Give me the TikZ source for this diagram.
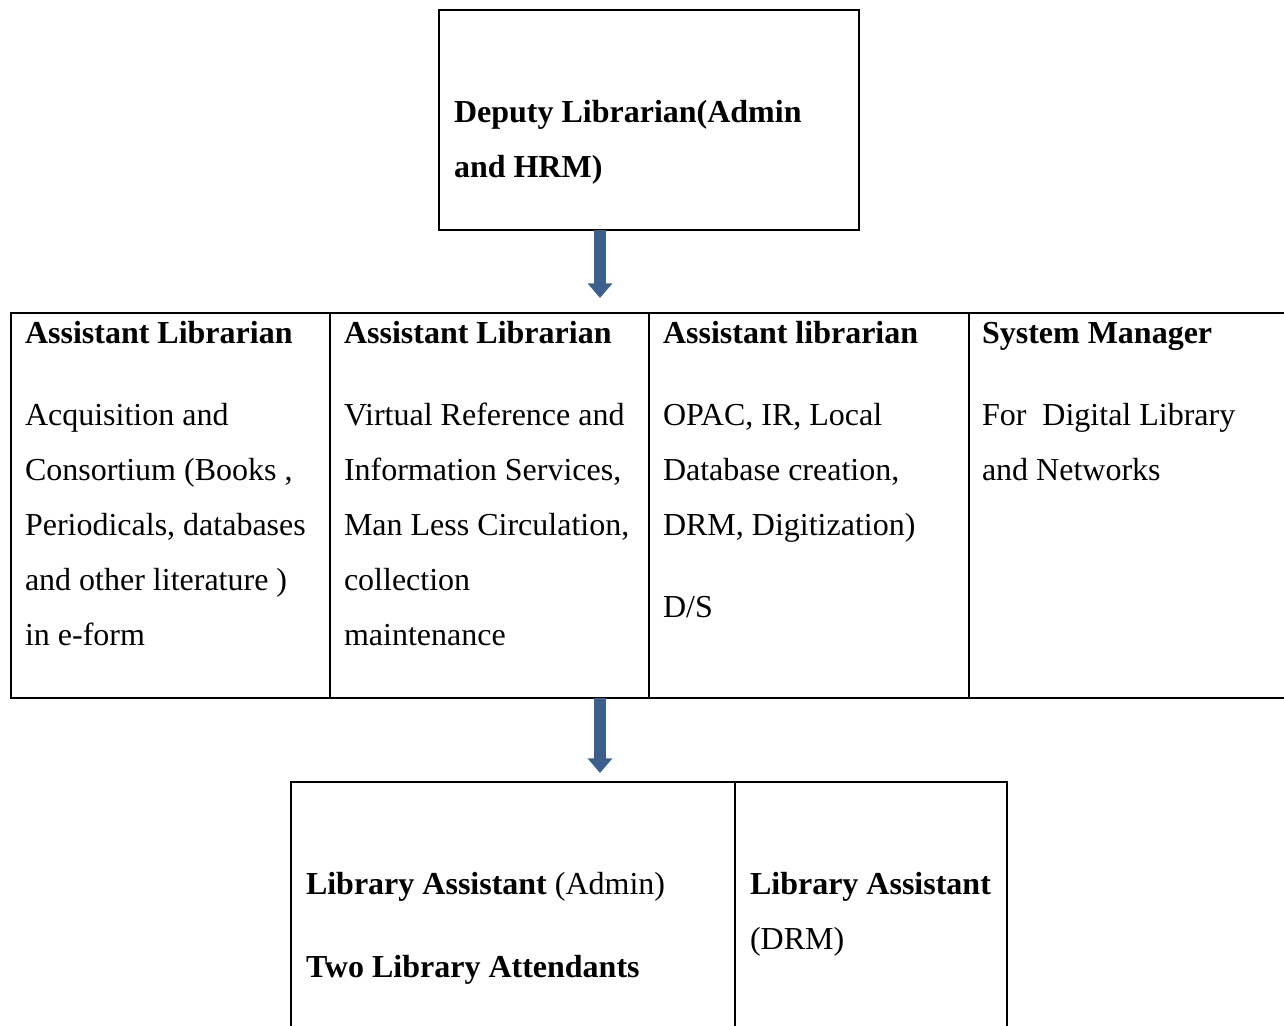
\documentclass[tikz,border=0pt]{standalone}
\usepackage{fontspec}
\setmainfont{Liberation Serif}
\usetikzlibrary{arrows.meta,positioning}

\definecolor{arrowBlue}{RGB}{61,95,141}
\tikzset{
  box/.style={draw, line width=1.5pt, inner sep=0pt, outer sep=0pt, anchor=north west},
  % base west sits on the last line of the text
  txt/.style={anchor=base west, inner sep=0pt, outer sep=0pt, align=left,
    font=\fontsize{24}{41.25}\selectfont},
  head/.style={txt, font=\fontsize{24}{41.25}\selectfont\bfseries},
  flow/.style={draw=arrowBlue, line width=9pt, -{Triangle[width=18pt,length=11pt]}}
}

\begin{document}
\begin{tikzpicture}[x=0.75pt,y=-0.75pt]
\useasboundingbox (0,0) rectangle (1284,1025);
\clip (0,0) rectangle (1284,1025);

% deputy librarian
\node[box, minimum width=420*0.75pt, minimum height=220*0.75pt] (deputy) at (439,10) {};
\node[head] (deputytxt) at (454,177) {Deputy Librarian(Admin\\and HRM)};

% row of sections
\node[box, minimum width=319*0.75pt, minimum height=385*0.75pt] (acq) at (11,313) {};
\node[box, minimum width=319*0.75pt, minimum height=385*0.75pt] (vref) at (330,313) {};
\node[box, minimum width=320*0.75pt, minimum height=385*0.75pt] (opac) at (649,313) {};
\node[box, minimum width=340*0.75pt, minimum height=385*0.75pt] (sysman) at (969,313) {};

\node[head] (acqhead) at (25,343) {Assistant Librarian};
\node[txt] (acqtxt) at (25,645) {Acquisition and\\Consortium (Books ,\\Periodicals, databases\\and other literature )\\in e-form};

\node[head] (vrefhead) at (344,343) {Assistant Librarian};
\node[txt] (vreftxt) at (344,645) {Virtual Reference and\\Information Services,\\Man Less Circulation,\\collection\\maintenance};

\node[head] (opachead) at (663,343) {Assistant librarian};
\node[txt] (opactxt) at (663,535) {OPAC, IR, Local\\Database creation,\\DRM, Digitization)};
\node[txt] (ds) at (663,617) {D/S};

\node[head] (sysmanhead) at (982,343) {System Manager};
\node[txt] (sysmantxt) at (982,480) {For\ \ Digital Library\\and Networks};

% library assistants
\node[box, minimum width=444*0.75pt, minimum height=270*0.75pt] (admin) at (291,782) {};
\node[box, minimum width=272*0.75pt, minimum height=270*0.75pt] (drm) at (735,782) {};

\node[txt] (admintxt) at (306,894) {\textbf{Library Assistant} (Admin)};
\node[head] (attend) at (306,977) {Two Library Attendants};
\node[txt] (drmtxt) at (750,949) {\textbf{Library Assistant}\\(DRM)};

% arrows
\coordinate (tip1) at (600,298);
\coordinate (tip2) at (600,773);
\draw[flow] (deputy.south -| tip1) -- (tip1);
\draw[flow] (vref.south -| tip2) -- (tip2);
\end{tikzpicture}
\end{document}
